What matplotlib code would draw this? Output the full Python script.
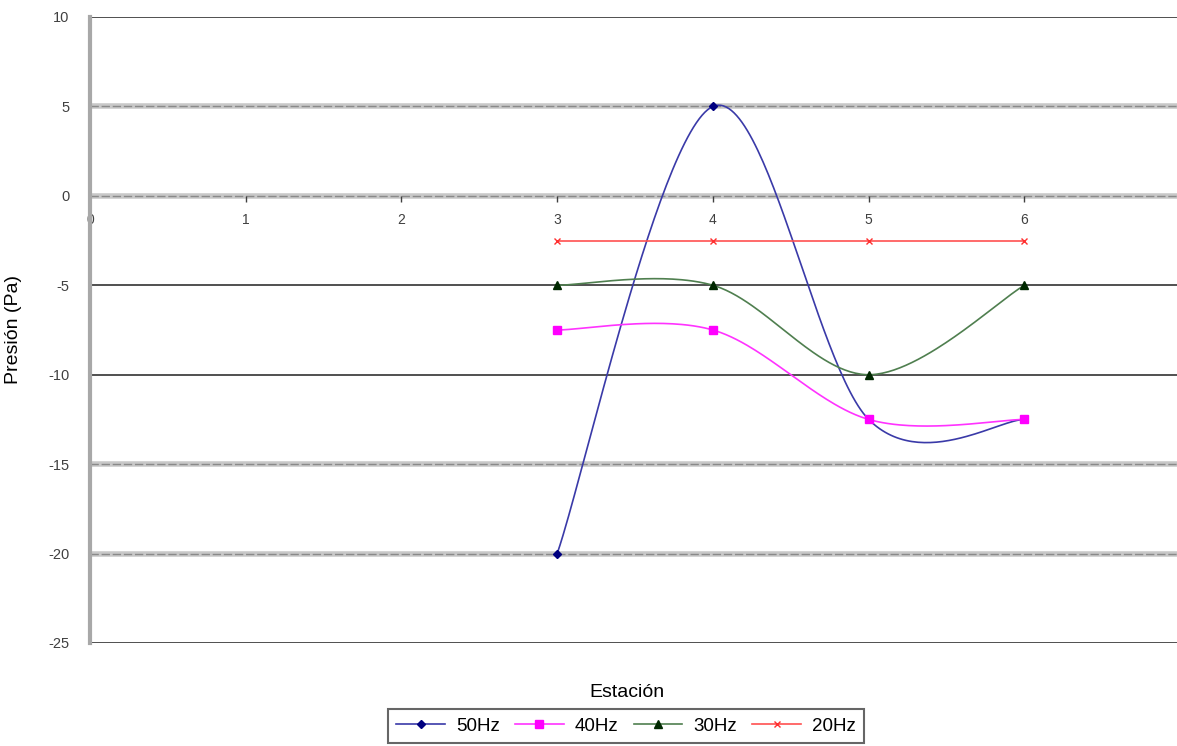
import numpy as np
import matplotlib
matplotlib.use("Agg")
import matplotlib.pyplot as plt

estaciones = [3, 4, 5, 6]
p_50hz = [-20, 5, -12.5, -12.5]
p_40hz = [-7.5, -7.5, -12.5, -12.5]
p_30hz = [-5, -5, -10, -5]
p_20hz = [-2.5, -2.5, -2.5, -2.5]

x_ticks = [0, 1, 2, 3, 4, 5, 6]
y_ticks = [10, 5, 0, -5, -10, -15, -20, -25]


def smooth(x, y, n=60):
    # spreadsheet-style smoothed line: cubic Bezier through each point
    pts = np.column_stack([x, y]).astype(float)
    P = np.vstack([pts[0], pts, pts[-1]])
    out = []
    t = np.linspace(0, 1, n)[:, None]
    for i in range(1, len(P) - 2):
        p0, p1, p2, p3 = P[i - 1], P[i], P[i + 1], P[i + 2]
        c1 = p1 + (p2 - p0) / 6
        c2 = p2 - (p3 - p1) / 6
        seg = (1 - t) ** 3 * p1 + 3 * (1 - t) ** 2 * t * c1 + 3 * (1 - t) * t ** 2 * c2 + t ** 3 * p2
        out.append(seg if i == 1 else seg[1:])
    s = np.vstack(out)
    return s[:, 0], s[:, 1]


plt.rcParams['font.family'] = ['Liberation Sans', 'DejaVu Sans']
plt.rcParams['axes.unicode_minus'] = False

fig = plt.figure(figsize=(11.77, 7.46), dpi=100)
ax = fig.add_axes([90 / 1177, 1 - 643 / 746, 1 - 90 / 1177, (643 - 17) / 746])
ax.set_xlim(0, 6.98)
ax.set_ylim(-25, 10)

# horizontal gridlines
for v in y_ticks:
    if v in (5, 0, -15, -20):
        ax.axhline(v, color='#c8c8c8', lw=4, zorder=1)
        ax.axhline(v, color='#8a8a8a', lw=1, ls=(0, (6, 2)), zorder=1)
    else:
        ax.axhline(v, color='#505050', lw=1.4, zorder=1)

series = [
    (p_50hz, '50Hz', '#3a3aa8', 'D', '#000080', 4.5),
    (p_40hz, '40Hz', '#ff33ff', 's', '#ff00ff', 6),
    (p_30hz, '30Hz', '#4f7f4f', '^', '#002800', 6),
    (p_20hz, '20Hz', '#ff5050', 'x', '#ff3030', 5),
]
handles = []
for vals, name, lc, mk, mc, ms in series:
    sx, sy = smooth(estaciones, vals)
    ax.plot(sx, sy, color=lc, lw=1.2, zorder=3)
    ax.plot(estaciones, vals, ls='none', marker=mk, ms=ms, color=mc,
            markeredgecolor=mc, zorder=4)
    h, = ax.plot([], [], color=lc, lw=1.2, marker=mk, ms=ms,
                 markerfacecolor=mc, markeredgecolor=mc)
    handles.append(h)

for s in ['top', 'right', 'bottom']:
    ax.spines[s].set_visible(False)
ax.spines['left'].set_color('#a8a8a8')
ax.spines['left'].set_linewidth(3)

# x axis crosses at zero, labels hang below it
ax.spines['bottom'].set_position(('data', 0))

ax.set_xticks(x_ticks)
ax.set_yticks(y_ticks)
ax.tick_params(axis='x', direction='out', length=4, width=1, color='#404040',
               labelsize=10, labelcolor='#404040', pad=8)
ax.tick_params(axis='y', length=0, labelsize=10.5, labelcolor='#404040', pad=15)

ax.set_ylabel('Presión (Pa)', fontsize=14)
ax.set_xlabel('Estación', fontsize=14)
ax.xaxis.set_label_coords(0.494, -0.065)
ax.yaxis.set_label_coords(-0.063, 0.50)

leg = fig.legend(handles=handles, labels=[s[1] for s in series], ncol=4,
                 loc='center', bbox_to_anchor=(626 / 1177, 1 - 726 / 746),
                 fontsize=13.5, frameon=True, fancybox=False, handlelength=2.6,
                 columnspacing=0.8, handletextpad=0.6, borderpad=0.45,
                 borderaxespad=0)
leg.get_frame().set_edgecolor('#404040')
leg.get_frame().set_linewidth(1.5)

fig.savefig('out.png', dpi=100)
